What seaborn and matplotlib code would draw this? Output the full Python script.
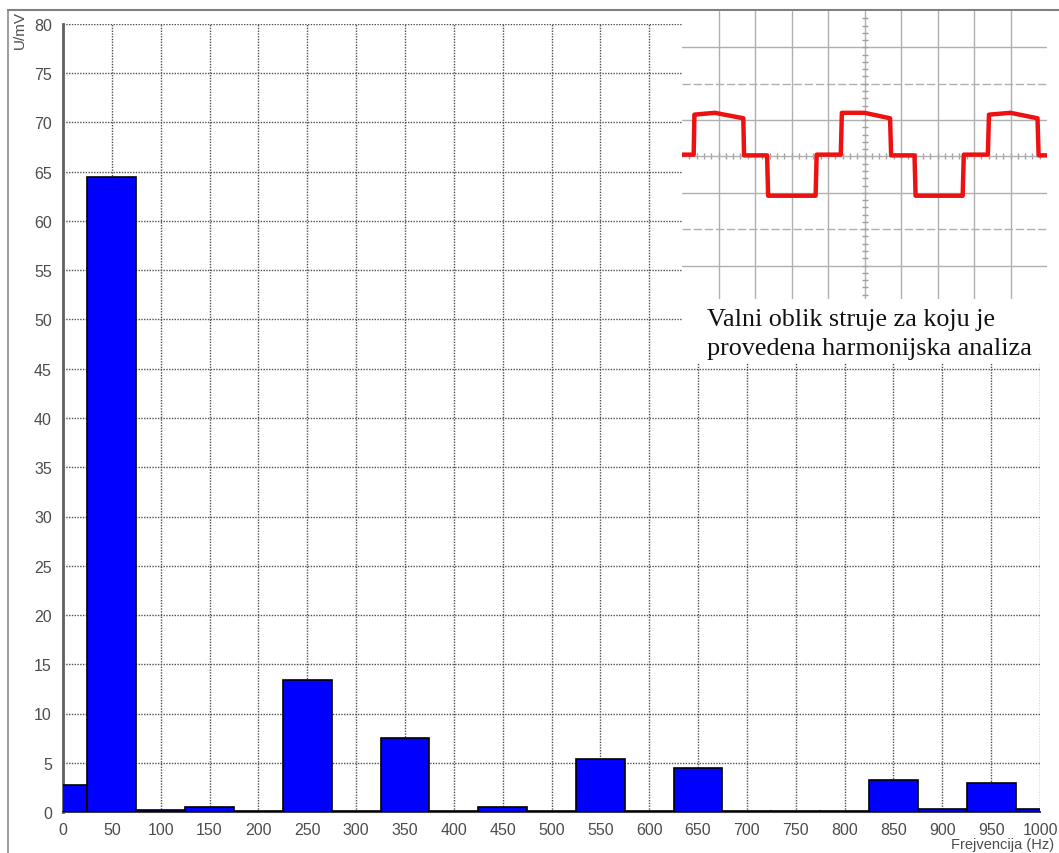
import matplotlib
matplotlib.use("Agg")
import matplotlib.pyplot as plt
import seaborn as sns
import numpy as np
import pandas as pd
from matplotlib.lines import Line2D
from matplotlib.patches import Rectangle

# ---- data ----
freqs = [0, 50, 100, 150, 200, 250, 300, 350, 400, 450, 500,
         550, 600, 650, 700, 750, 800, 850, 900, 950, 1000]
amplitudes = [2.7, 64.5, 0.2, 0.5, 0.15, 13.4, 0.15, 7.5, 0.15, 0.5, 0.15,
              5.4, 0.15, 4.5, 0.15, 0.15, 0.15, 3.25, 0.3, 2.95, 0.3]
y_ticks = list(range(0, 81, 5))
x_ticks = list(range(0, 1001, 50))
y_label = "U/mV"
x_label = "Frejvencija (Hz)"
inset_caption = "Valni oblik struje za koju je\nprovedena harmonijska analiza"

# oscilloscope waveform (divisions)
wave_t = [0.0, 0.32, 0.34, 0.9, 1.68, 1.70, 2.33, 2.36, 3.66, 3.69, 4.35, 4.38, 5.0,
          5.70, 5.73, 6.37, 6.40, 7.69, 7.72, 8.38, 8.41, 9.0, 9.74, 9.77, 10.0]
wave_v = [0.05, 0.05, 1.15, 1.2, 1.05, 0.03, 0.03, -1.08, -1.08, 0.05, 0.05, 1.2, 1.2,
          1.05, 0.03, 0.03, -1.08, -1.08, 0.05, 0.05, 1.15, 1.2, 1.05, 0.03, 0.03]

df = pd.DataFrame({"f": freqs, "u": amplitudes})

sns.set_style("white")
plt.rcParams["font.family"] = ["Liberation Sans", "DejaVu Sans"]

W, H = 1059, 854
fig = plt.figure(figsize=(W / 100, H / 100), dpi=100)
fig.patch.set_facecolor("white")

ax = fig.add_axes([63 / W, 1 - 813 / H, (1040 - 63) / W, (813 - 25) / H])
sns.barplot(data=df, x="f", y="u", native_scale=True, width=1.0,
            color="#0000ff", saturation=1, edgecolor="black", linewidth=1.2,
            ax=ax, zorder=3)
ax.set_xlim(0, 1000)
ax.set_ylim(0, 80)
ax.set_xticks(x_ticks)
ax.set_yticks(y_ticks)
ax.set_xlabel("")
ax.set_ylabel("")
ax.grid(True, color="#505050", linestyle=(0, (1, 1)), linewidth=1)
ax.set_axisbelow(True)
for s in ["top", "right"]:
    ax.spines[s].set_visible(False)
ax.spines["left"].set_color("#606060")
ax.spines["left"].set_linewidth(2)
ax.spines["bottom"].set_color("#404040")
ax.spines["bottom"].set_linewidth(1.5)
ax.tick_params(axis="both", direction="out", length=4, width=1.2,
               colors="#404040", labelsize=11.5, labelcolor="#4d4d4d", pad=3)
ax.tick_params(axis="y", pad=4)

fig.text(20 / W, 1 - 30 / H, y_label, rotation=90, ha="center", va="center",
         fontsize=11, color="#4d4d4d")
fig.text(1054 / W, 1 - 845 / H, x_label, ha="right", va="center",
         fontsize=10.5, color="#4d4d4d")

# outer frame
fig.add_artist(Line2D([8 / W, 8 / W], [0, 1 - 11 / H], color="#a0a0a0", lw=1.5))
fig.add_artist(Line2D([8 / W, 1], [1 - 11 / H, 1 - 11 / H], color="#808080", lw=1.5))

# caption box
fig.add_artist(Rectangle((682 / W, 1 - 364 / H), (1048 - 682) / W, (364 - 300) / H,
                         transform=fig.transFigure, facecolor="white",
                         edgecolor="none", zorder=5))
fig.text(707 / W, 1 - 309 / H, inset_caption, ha="left", va="top",
         fontsize=18.8, family=["Liberation Serif", "DejaVu Serif"],
         color="#111111", linespacing=1.42, zorder=6)

# oscilloscope inset
axi = fig.add_axes([682 / W, 1 - 300 / H, (1047 - 682) / W, (300 - 12) / H], zorder=7)
axi.set_xlim(0, 10)
axi.set_ylim(-3.92, 4)
axi.set_facecolor("white")
for v in range(1, 10):
    axi.axvline(v, color="#b0b0b0", lw=1, zorder=1)
for h in [-3, -2, -1, 1, 2, 3]:
    axi.axhline(h, color="#b0b0b0", lw=1, zorder=1,
                linestyle="-" if h not in (-2, 2) else (0, (6, 2)))
minor = np.arange(0.2, 10, 0.2)
axi.plot(minor, np.zeros_like(minor), linestyle="none", marker="|", ms=4,
         color="#a0a0a0", zorder=1)
minor_y = np.arange(-3.8, 4, 0.2)
axi.plot(np.full_like(minor_y, 5.0), minor_y, linestyle="none", marker="_", ms=4,
         color="#a0a0a0", zorder=1)
axi.axhline(0, color="#b0b0b0", lw=1, zorder=1)
sns.lineplot(x=wave_t, y=wave_v, sort=False, estimator=None, color="#ee1111",
             lw=3.2, ax=axi, zorder=3)
axi.set_xticks([])
axi.set_yticks([])
for s in axi.spines.values():
    s.set_visible(False)

fig.savefig("out.png", dpi=100, facecolor="white")
